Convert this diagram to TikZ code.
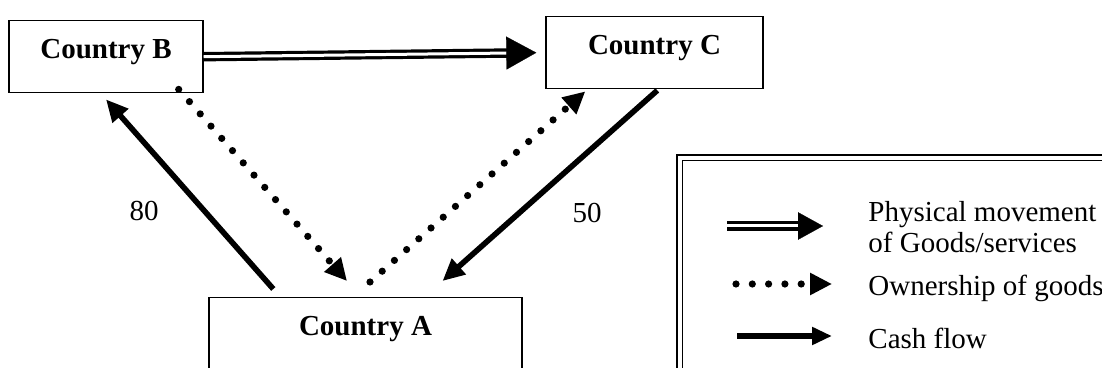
\documentclass[tikz,border=0pt]{standalone}
\usepackage{fontspec}
\setmainfont{Liberation Serif}
\usepackage{tikz}
\usetikzlibrary{arrows.meta,positioning,calc}

\begin{document}
\begin{tikzpicture}[
    x=0.5pt, y=-0.5pt,
    every node/.style={font=\fontsize{14.5}{15.5}\selectfont},
    country/.style={draw, line width=0.7pt, anchor=north, inner sep=0pt, text height=18.75pt, text depth=17.25pt, font=\fontsize{14.5}{15.5}\selectfont\bfseries},
    cash/.style={line width=2.8pt, -{Triangle[length=11pt, width=10pt]}},
    owner/.style={line width=3.6pt, line cap=round, dash pattern=on 0pt off 8.15pt, -{Triangle[length=11pt, width=10.5pt]}},
    goods/.style={double, line width=1.6pt, double distance=1.5pt, shorten >=13pt},
    goodstip/.style={white, line width=0.1pt, -{Triangle[length=15pt, width=16.5pt, black, scale=#1]}},
    goodstip/.default=1,
    legendbox/.style={draw, double, line width=0.8pt, double distance=2pt, anchor=north west, minimum width=250pt, minimum height=150pt}
]
    \useasboundingbox (0,0) rectangle (1102,368);
    \clip (0,0) rectangle (1102,368);

    % Countries
    \node[country, minimum width=97pt] (countryB) at (106,20) {Country B};
    \node[country, minimum width=108.5pt] (countryC) at (654.5,16) {Country C};
    \node[country, minimum width=156.5pt, text depth=60pt] (countryA) at (365.5,297) {Country A};

    % Physical movement
    \draw[goods] (countryB.east) -- ([xshift=-4.5pt]countryC.west);
    \draw[goodstip] (countryB.east) -- ([xshift=-4.5pt]countryC.west);

    % Ownership
    \draw[owner] ($(countryB.south east)+(-25,-4)$) -- ($(countryA.north)+(-18.5,-16)$);
    \draw[owner] ($(countryA.north)+(4.5,-15)$) -- ($(countryC.south west)+(40,2)$);

    % Cash flows
    \draw[cash] ($(countryA.north west)+(65,-8)$) -- ([yshift=-3pt]countryB.south);
    \draw[cash] ($(countryC.south west)+(112,1)$) -- ($(countryA.north)+(77,-16)$);
    \node[anchor=base] (amt80) at (144,221) {80};
    \node[anchor=base] (amt50) at (587,223) {50};

    % Legend
    \node[legendbox] (legend) at (679,157) {};
    \coordinate (physL) at (727,226);
    \coordinate (physR) at (823,226);
    \coordinate (ownL) at (736,284);
    \coordinate (ownR) at (832,284);
    \coordinate (cashL) at (737,336);
    \coordinate (cashR) at (832,336);
    \draw[goods, shorten >=11pt] (physL) -- (physR);
    \draw[goodstip=0.83] (physL) -- (physR);
    \draw[owner] (ownL) -- (ownR);
    \draw[cash, -{Triangle[length=10pt, width=8.5pt]}] (cashL) -- (cashR);
    \node[anchor=base west, align=left, inner sep=0pt] (legphys) at (868,253) {Physical movement\\of Goods/services};
    \node[anchor=base west, inner sep=0pt] (legown) at (868,296) {Ownership of goods};
    \node[anchor=base west, inner sep=0pt] (legcash) at (868,349) {Cash flow};
\end{tikzpicture}
\end{document}
